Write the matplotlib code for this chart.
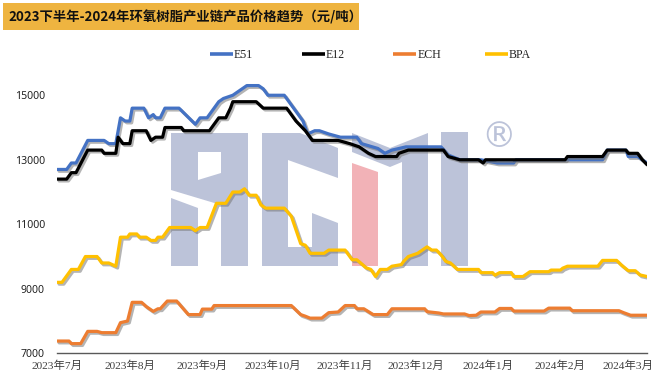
import matplotlib
matplotlib.use("Agg")
import matplotlib.pyplot as plt
import matplotlib.patheffects as pe
import matplotlib.transforms as mtrans
from matplotlib.patches import Polygon, Rectangle
from matplotlib.lines import Line2D
import pandas as pd

# ---------------- data ----------------
e51_dates = ['2023-07-01','2023-07-05','2023-07-07','2023-07-09','2023-07-14','2023-07-21','2023-07-23','2023-07-26','2023-07-28','2023-07-30',
             '2023-08-01','2023-08-02','2023-08-07','2023-08-09','2023-08-11','2023-08-12','2023-08-14','2023-08-16','2023-08-22','2023-08-29',
             '2023-08-31','2023-09-03','2023-09-08','2023-09-10','2023-09-14','2023-09-16','2023-09-18','2023-09-20','2023-09-25','2023-09-27',
             '2023-09-29','2023-10-06','2023-10-14','2023-10-16','2023-10-19','2023-10-21','2023-10-25','2023-10-30','2023-11-06','2023-11-08',
             '2023-11-15','2023-11-18','2023-11-21','2023-11-27','2023-12-12','2023-12-15','2023-12-20','2023-12-29','2024-01-05','2024-01-12',
             '2024-01-13','2024-02-19','2024-02-21','2024-02-29','2024-03-01','2024-03-05','2024-03-07','2024-03-09']
e51_vals = [12700,12700,12900,12900,13600,13600,13500,13500,14300,14200,
            14200,14600,14600,14300,14400,14300,14300,14600,14600,14100,
            14300,14300,14800,14900,15000,15100,15200,15300,15300,15200,
            15000,15000,14200,13800,13900,13900,13800,13700,13700,13500,
            13350,13200,13300,13400,13400,13150,13000,13000,12900,12900,
            13000,13000,13300,13300,13100,13100,13000,12900]

e12_dates = ['2023-07-01','2023-07-05','2023-07-07','2023-07-09','2023-07-14','2023-07-20','2023-07-21','2023-07-26','2023-07-27','2023-07-29',
             '2023-08-01','2023-08-02','2023-08-08','2023-08-10','2023-08-12','2023-08-15','2023-08-16','2023-08-23','2023-08-24','2023-09-04',
             '2023-09-08','2023-09-11','2023-09-13','2023-09-14','2023-09-24','2023-09-27','2023-10-07','2023-10-11','2023-10-15','2023-10-18',
             '2023-10-29','2023-11-03','2023-11-07','2023-11-11','2023-11-14','2023-11-23','2023-11-24','2023-11-28','2023-12-13','2023-12-15',
             '2023-12-20','2023-12-28','2023-12-30','2023-12-31','2024-02-03','2024-02-04','2024-02-19','2024-02-21','2024-02-29','2024-03-01',
             '2024-03-05','2024-03-07','2024-03-09']
e12_vals = [12400,12400,12600,12600,13300,13300,13200,13200,13700,13500,
            13500,13900,13900,13600,13700,13700,14000,14000,13900,13900,
            14300,14300,14600,14800,14800,14600,14600,14200,13900,13600,
            13600,13500,13400,13200,13100,13100,13200,13300,13300,13100,
            13000,13000,12900,13000,13000,13100,13100,13300,13300,13200,
            13200,13000,12850]

ech_dates = ['2023-07-01','2023-07-06','2023-07-07','2023-07-11','2023-07-14','2023-07-18','2023-07-20','2023-07-26','2023-07-28','2023-07-31',
             '2023-08-02','2023-08-06','2023-08-08','2023-08-11','2023-08-13','2023-08-14','2023-08-17','2023-08-21','2023-08-26','2023-08-31',
             '2023-09-01','2023-09-05','2023-09-06','2023-10-09','2023-10-13','2023-10-15','2023-10-17','2023-10-22','2023-10-25','2023-10-29',
             '2023-11-01','2023-11-05','2023-11-06','2023-11-09','2023-11-13','2023-11-19','2023-11-21','2023-12-05','2023-12-06','2023-12-11',
             '2023-12-13','2023-12-22','2023-12-24','2023-12-27','2023-12-29','2024-01-04','2024-01-06','2024-01-11','2024-01-12','2024-01-25',
             '2024-01-27','2024-02-05','2024-02-06','2024-02-26','2024-02-28','2024-03-02','2024-03-09']
ech_vals = [7380,7380,7300,7300,7680,7680,7640,7640,7950,8000,
            8580,8580,8450,8300,8380,8380,8620,8620,8200,8200,
            8370,8370,8480,8480,8200,8150,8090,8090,8260,8280,
            8480,8480,8380,8380,8200,8200,8380,8380,8290,8250,
            8220,8220,8170,8180,8280,8280,8390,8390,8310,8310,
            8400,8400,8320,8320,8260,8180,8180]

bpa_dates = ['2023-07-01','2023-07-03','2023-07-06','2023-07-07','2023-07-10','2023-07-13','2023-07-18','2023-07-20','2023-07-23','2023-07-26',
             '2023-07-28','2023-07-31','2023-08-01','2023-08-04','2023-08-05','2023-08-08','2023-08-10','2023-08-12','2023-08-13','2023-08-15',
             '2023-08-18','2023-08-27','2023-08-29','2023-08-31','2023-09-03','2023-09-07','2023-09-11','2023-09-14','2023-09-17','2023-09-19',
             '2023-09-21','2023-09-24','2023-09-26','2023-09-28','2023-10-06','2023-10-09','2023-10-13','2023-10-15','2023-10-17','2023-10-23',
             '2023-10-25','2023-11-01','2023-11-04','2023-11-06','2023-11-10','2023-11-12','2023-11-14','2023-11-16','2023-11-19','2023-11-21',
             '2023-11-25','2023-11-26','2023-11-28','2023-12-02','2023-12-06','2023-12-08','2023-12-10','2023-12-12','2023-12-14','2023-12-16',
             '2023-12-19','2023-12-28','2023-12-29','2024-01-03','2024-01-04','2024-01-06','2024-01-11','2024-01-12','2024-01-16','2024-01-19',
             '2024-01-27','2024-01-28','2024-02-01','2024-02-02','2024-02-04','2024-02-17','2024-02-19','2024-02-25','2024-02-27','2024-03-01',
             '2024-03-04','2024-03-06','2024-03-09']
bpa_vals = [9200,9200,9500,9600,9600,10000,10000,9800,9800,9700,
            10600,10600,10700,10700,10600,10600,10500,10500,10600,10600,
            10900,10900,10800,10900,10900,11650,11650,12000,12000,12100,
            11900,11900,11600,11500,11500,11250,10400,10350,10100,10100,
            10200,10200,9900,9900,9650,9600,9380,9600,9600,9700,
            9750,9850,10000,10100,10300,10200,10200,10050,9850,9800,
            9600,9600,9500,9500,9420,9500,9500,9380,9380,9530,
            9530,9580,9580,9640,9700,9700,9880,9880,9740,9560,
            9560,9430,9380]

series_names = ['E51', 'E12', 'ECH', 'BPA']
series_colors = ['#4472C4', '#000000', '#ED7D31', '#FFC000']

tick_dates = ['2023-07-01','2023-08-01','2023-09-01','2023-10-01','2023-11-01','2023-12-01','2024-01-01','2024-02-01','2024-03-01']
tick_labels = ['2023年7月','2023年8月','2023年9月','2023年10月','2023年11月','2023年12月','2024年1月','2024年2月','2024年3月']
y_ticks = [7000, 9000, 11000, 13000, 15000]

title = '2023下半年-2024年环氧树脂产业链产品价格趋势（元/吨）'

# ---------------- figure ----------------
W, H = 661, 381
fig = plt.figure(figsize=(W / 100, H / 100), dpi=100)
fig.patch.set_facecolor('white')
ax = fig.add_axes([57.3 / W, 1 - 353.3 / H, (647 - 57.3) / W, (353.3 - 63) / H])

# pixel transform (x right, y down) for decorations
pix = mtrans.Affine2D().scale(1 / W, -1 / H).translate(0, 1) + fig.transFigure

# title bar
fig.patches.append(Rectangle((3, 29.5), 356, -26.5, transform=pix, facecolor='#EEB440',
                             edgecolor='none', zorder=0))
fig.text(8 / W, 1 - 17 / H, title, fontsize=9.6, fontweight='bold', color='#111111',
         family=['Noto Sans CJK SC', 'DejaVu Sans'], va='center', ha='left')

# watermark logo
grey = '#BCC3D9'
pink = '#F2B2B7'
logo = [
    ([(171, 133), (248, 133), (248, 266), (221, 266), (221, 205), (171, 190)], grey),
    ([(198, 152), (221, 152), (221, 173), (198, 180)], 'white'),
    ([(171, 198), (198, 208), (198, 266), (171, 266)], grey),
    ([(262, 133), (288, 133), (288, 266), (262, 266)], grey),
    ([(288, 133), (300, 133), (338, 148), (338, 178), (288, 160)], grey),
    ([(288, 247), (312, 247), (312, 213), (338, 223), (338, 266), (288, 266)], grey),
    ([(352, 163), (378, 172), (378, 266), (352, 266)], pink),
    ([(352, 133), (390, 148), (428, 133), (428, 266), (402, 266), (402, 162), (390, 167), (352, 152)], grey),
    ([(441, 132), (468, 132), (468, 266), (441, 266)], grey),
]
for pts, col in logo:
    ax.add_patch(Polygon(pts, closed=True, transform=pix, facecolor=col, edgecolor='none',
                         zorder=0.5, clip_on=False))
ax.text(499 / W, 1 - 137 / H, '®', transform=fig.transFigure, fontsize=25, color=grey,
        ha='center', va='center', zorder=0.6, family='DejaVu Sans')

# series
all_dates = [e51_dates, e12_dates, ech_dates, bpa_dates]
all_vals = [e51_vals, e12_vals, ech_vals, bpa_vals]
shadow = [pe.SimpleLineShadow(offset=(1.3, -1.3), shadow_color='#777777', alpha=0.55), pe.Normal()]
for d, v, c in zip(all_dates, all_vals, series_colors):
    ax.plot(pd.to_datetime(d), v, color=c, lw=2.3, solid_joinstyle='round',
            solid_capstyle='round', path_effects=shadow, zorder=3)

ax.set_xlim(pd.Timestamp('2023-07-01'), pd.Timestamp('2024-03-09'))
ax.set_ylim(7000, 16000)
ax.set_yticks(y_ticks)
ax.set_yticklabels([str(t) for t in y_ticks], fontsize=7.6, fontweight='bold',
                   family='Noto Sans', color='#222222')
ax.set_xticks(pd.to_datetime(tick_dates))
ax.set_xticklabels(tick_labels, fontsize=8.2, color='#404040',
                   family=['Liberation Serif', 'Noto Sans CJK SC'])
ax.tick_params(axis='y', length=0, pad=9)
ax.tick_params(axis='x', length=0, pad=5)
for s in ['top', 'right', 'left']:
    ax.spines[s].set_visible(False)
ax.spines['bottom'].set_color('#595959')
ax.spines['bottom'].set_linewidth(1.0)
ax.patch.set_alpha(0)

# legend (manual, evenly spaced like the original)
for i, (name, col) in enumerate(zip(series_names, series_colors)):
    x0 = 210 + 91.7 * i
    fig.lines.append(Line2D([x0, x0 + 23], [54, 54], transform=pix, color=col, lw=2.6,
                            solid_capstyle='butt'))
    fig.text((x0 + 24) / W, 1 - 54.5 / H, name, fontsize=8.6, family='Liberation Serif',
             color='#222222', va='center', ha='left')

fig.savefig('out.png', dpi=100)
